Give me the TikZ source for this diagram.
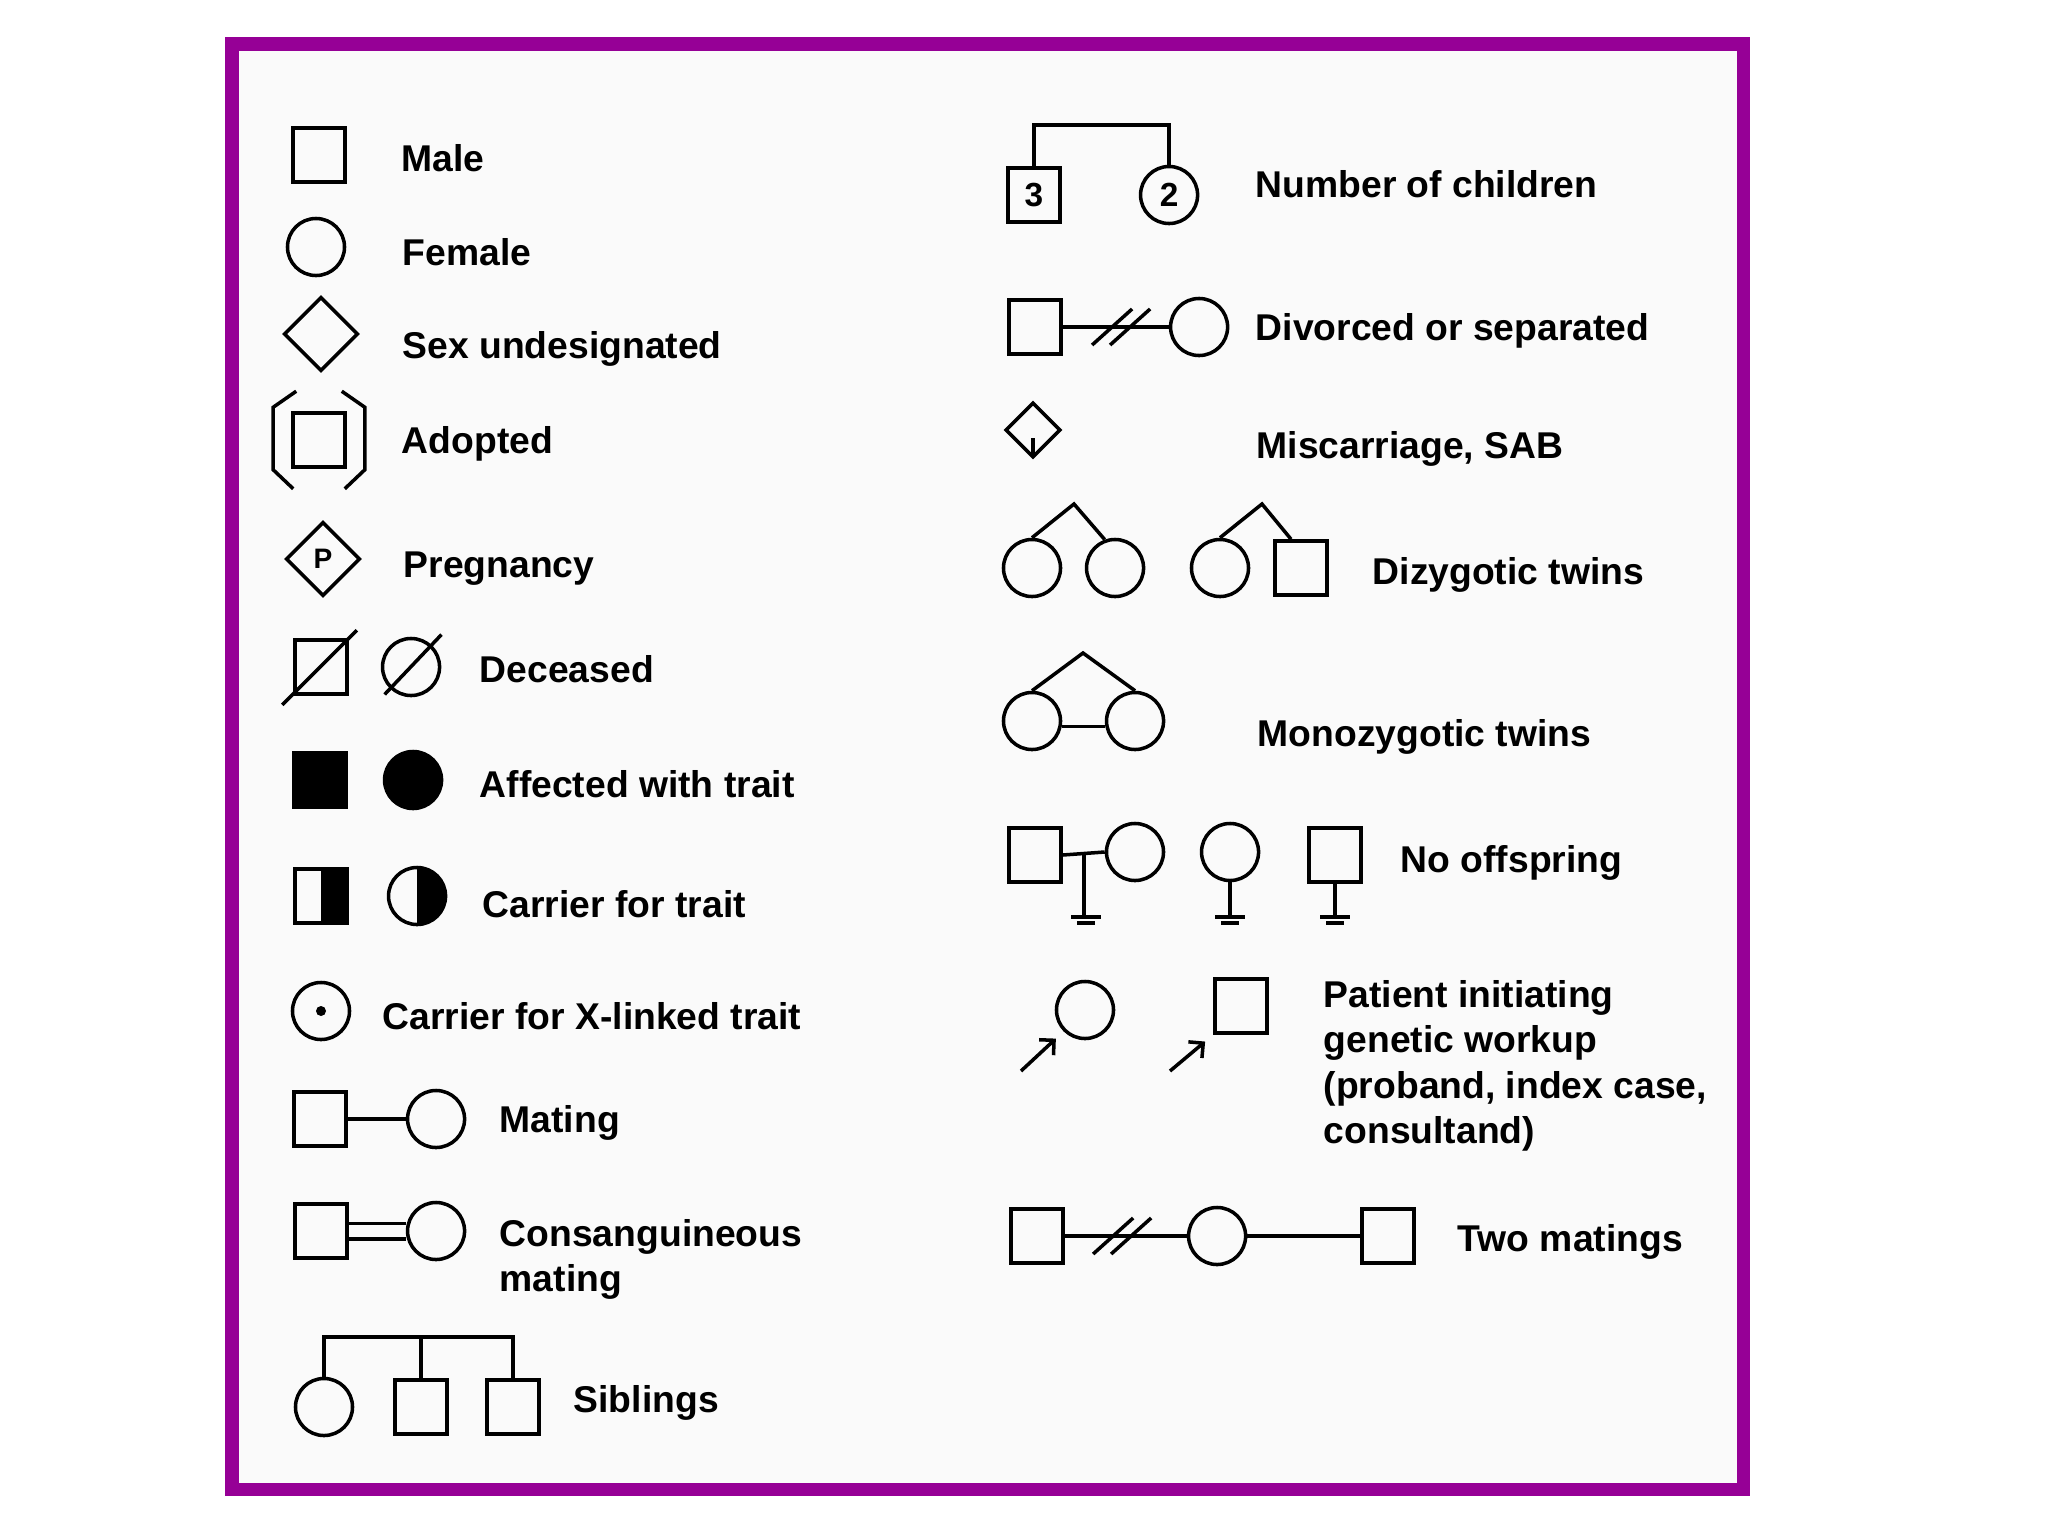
\documentclass[tikz,border=0pt]{standalone}
\usepackage{fontspec}
\setmainfont{Liberation Sans}
\usepackage{xcolor}
\usepackage{tikz}
\usetikzlibrary{shapes.geometric, positioning, arrows.meta}

\definecolor{framepurple}{RGB}{150,0,150}
\newcommand{\lblfont}{\fontsize{10.6}{12.8}\selectfont\bfseries}

\tikzset{
  male/.style={draw, rectangle, minimum width=0.52cm, minimum height=0.54cm, inner sep=0pt},
  fem/.style={draw, circle, minimum size=0.57cm, inner sep=0pt},
  unk/.style={draw, diamond, minimum width=0.74cm, minimum height=0.74cm, inner sep=0pt},
  aff/.style={fill=black},
  carrier/.style={path picture={\fill[black] (path picture bounding box.north) rectangle (path picture bounding box.south east);}},
  xcarrier/.style={path picture={\fill[black] (path picture bounding box.center) circle (0.05cm);}},
  lbl/.style={anchor=base west, inner sep=0pt, align=left, font=\lblfont},
  proarrow/.style={-{Straight Barb[length=3pt,width=6pt]}, shorten >=3pt},
}

\begin{document}
\begin{tikzpicture}[x=0.01cm, y=-0.01cm, on grid, line width=1pt]
        \useasboundingbox (0,0) rectangle (2048,1536);
        \fill[gray!4] (232,44) rectangle (1743,1489);
        \draw[framepurple, line width=0.13cm] (232,44) rectangle (1743,1489);

        % left column
        \node[male] (ml) at (319,155) {};
        \node[fem] (fl) at (316,247) {};
        \node[unk] (ul) at (321,334) {};
        \node[male] (ad) at (319,440) {};
        \node[unk, font=\fontsize{8}{9}\selectfont\bfseries] (pg) at (323,559) {P};
        \node[male] (dc1) at (321,667) {};
        \node[fem] (dc2) [right=0.90cm of dc1] {};
        \node[male, aff] (af1) at (320,780) {};
        \node[fem, aff] (af2) [right=0.93cm of af1] {};
        \node[male, carrier] (cr1) at (321,896) {};
        \node[fem, carrier] (cr2) [right=0.96cm of cr1] {};
        \node[fem, xcarrier] (xl) at (321,1011) {};
        \node[male] (mt1) at (320,1119) {};
        \node[fem] (mt2) [right=1.16cm of mt1] {};
        \node[male] (cs1) at (321,1231) {};
        \node[fem] (cs2) [right=1.15cm of cs1] {};
        \node[fem] (sb1) at (324,1407) {};
        \node[male] (sb2) [right=0.97cm of sb1] {};
        \node[male] (sb3) [right=0.92cm of sb2] {};
        \coordinate (sbb) at (420,1337);

        \draw ([shift={(5,-20)}]ad.north west) -- ([shift={(-18,-4)}]ad.north west)
              -- ([shift={(-18,1)}]ad.south west) -- ([shift={(2,20)}]ad.south west);
        \draw ([shift={(-5,-20)}]ad.north east) -- ([shift={(18,-4)}]ad.north east)
              -- ([shift={(18,1)}]ad.south east) -- ([shift={(-2,20)}]ad.south east);
        \draw ([shift={(-11,9)}]dc1.south west) -- ([shift={(8,-8)}]dc1.north east);
        \draw ([shift={(-5,6)}]dc2.south west) -- ([shift={(9,-11)}]dc2.north east);
        \draw (mt1) -- (mt2);
        \draw ([yshift=2.2pt]cs1.east) -- ([yshift=2.2pt]cs2.west);
        \draw ([yshift=-2.2pt]cs1.east) -- ([yshift=-2.2pt]cs2.west);
        \draw (sb1.north) |- (sbb) -| (sb3.north);
        \draw (sb2.north) -- (sb2.north |- sbb);

        \node[lbl] (tml) at (400,171) {Male};
        \node[lbl] (tfl) at (401,265) {Female};
        \node[lbl] (tul) at (401,358) {Sex undesignated};
        \node[lbl] (tad) at (400,453) {Adopted};
        \node[lbl] (tpg) at (402,577) {Pregnancy};
        \node[lbl] (tdc) at (478,682) {Deceased};
        \node[lbl] (taf) at (478,797) {Affected with trait};
        \node[lbl] (tcr) at (481,917) {Carrier for trait};
        \node[lbl] (txl) at (381,1029) {Carrier for X-linked trait};
        \node[lbl] (tmt) at (498,1132) {Mating};
        \node[lbl] (tcs) at (498,1291) {Consanguineous\\mating};
        \node[lbl] (tsb) at (572,1412) {Siblings};

        % right column
        \node[male, font=\fontsize{9.5}{10}\selectfont\bfseries] (nc3) at (1034,195) {3};
        \node[fem, font=\fontsize{9.5}{10}\selectfont\bfseries] (nc2) [right=1.35cm of nc3] {2};
        \coordinate (ncb) at (1100,125);
        \node[male] (dv1) at (1035,327) {};
        \node[fem] (dv2) [right=1.64cm of dv1] {};
        \node[unk, minimum width=0.55cm, minimum height=0.55cm] (ms) at (1033,430) {};
        \node[fem] (dz1) at (1032,568) {};
        \node[fem] (dz2) [right=0.83cm of dz1] {};
        \node[fem] (dz3) at (1220,568) {};
        \node[male] (dz4) [right=0.81cm of dz3] {};
        \coordinate (dza) at (1074,504);
        \coordinate (dzb) at (1262,504);
        \node[fem] (mz1) at (1032,721) {};
        \node[fem] (mz2) [right=1.03cm of mz1] {};
        \coordinate (mza) at (1083,653);
        \node[male] (no1) at (1035,855) {};
        \node[fem] (no2) at (1135,852) {};
        \node[fem] (no3) [right=0.95cm of no2] {};
        \node[male] (no4) at (1335,855) {};
        \coordinate (noe1) at (1086,917);
        \node[fem] (pb1) at (1085,1010) {};
        \node[male] (pb2) at (1241,1006) {};
        \coordinate (pt1) at (1021,1071);
        \coordinate (pt2) at (1170,1071);
        \node[male] (tm1) at (1037,1236) {};
        \node[fem] (tm2) [right=1.80cm of tm1] {};
        \node[male] (tm3) [right=1.71cm of tm2] {};

        \draw (nc3.north) |- (ncb) -| (nc2.north);
        \draw (dv1.east) -- coordinate[pos=0.55] (dvx) (dv2.west);
        \draw ([shift={(-29,18)}]dvx) -- ([shift={(11,-18)}]dvx);
        \draw ([shift={(-11,18)}]dvx) -- ([shift={(29,-18)}]dvx);
        \draw ([shift={(0,8)}]ms.center) -- ([shift={(0,-4)}]ms.south);
        \draw (dz1.north) -- (dza) -- (dz2.110);
        \draw (dz3.north) -- (dzb) -- ([shift={(-10,0)}]dz4.north);
        \draw (mz1.north) -- (mza) -- (mz2.north);
        \draw (mz1.-10) -- (mz2.190);
        \draw (no1.east) -- coordinate[midway] (nom) (no2.west);
        \draw (nom) -- (nom |- noe1);
        \draw (no3.south) -- (no3.south |- noe1) coordinate (noe2);
        \draw (no4.south) -- (no4.south |- noe1) coordinate (noe3);
        \draw ([shift={(-15,0)}]noe1) -- ([shift={(15,0)}]noe1);
        \draw ([shift={(-9,6)}]noe1) -- ([shift={(9,6)}]noe1);
        \draw ([shift={(-15,0)}]noe2) -- ([shift={(15,0)}]noe2);
        \draw ([shift={(-9,6)}]noe2) -- ([shift={(9,6)}]noe2);
        \draw ([shift={(-15,0)}]noe3) -- ([shift={(15,0)}]noe3);
        \draw ([shift={(-9,6)}]noe3) -- ([shift={(9,6)}]noe3);
        \draw[proarrow] (pt1) -- (pb1.south west);
        \draw[proarrow] (pt2) -- (pb2.south west);
        \draw (tm1.east) -- coordinate[pos=0.47] (tmx) (tm2.west);
        \draw ([shift={(-29,18)}]tmx) -- ([shift={(11,-18)}]tmx);
        \draw ([shift={(-11,18)}]tmx) -- ([shift={(29,-18)}]tmx);
        \draw (tm2) -- (tm3);

        \node[lbl] (tnc) at (1254,197) {Number of children};
        \node[lbl] (tdv) at (1254,340) {Divorced or separated};
        \node[lbl] (tms) at (1255,458) {Miscarriage, SAB};
        \node[lbl] (tdz) at (1371,584) {Dizygotic twins};
        \node[lbl] (tmz) at (1256,746) {Monozygotic twins};
        \node[lbl] (tno) at (1399,872) {No offspring};
        \node[lbl] (tpb) at (1322,1143) {Patient initiating\\genetic workup\\(proband, index case,\\consultand)};
        \node[lbl] (ttm) at (1456,1251) {Two matings};
\end{tikzpicture}
\end{document}
